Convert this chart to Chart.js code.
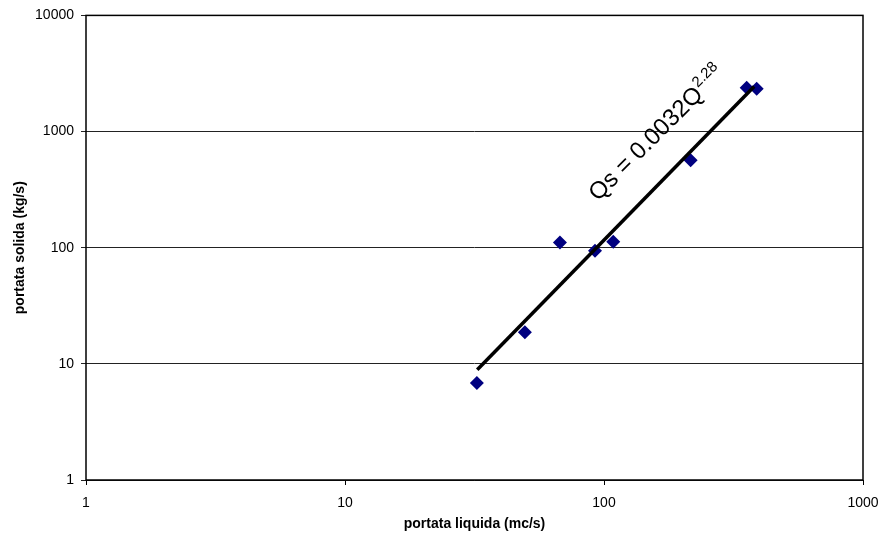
<!DOCTYPE html>
<html>
<head>
<meta charset="utf-8">
<script src="https://cdn.jsdelivr.net/npm/chart.js@4/dist/chart.umd.min.js"></script>
<style>
  html, body { margin: 0; padding: 0; background: #fff; }
  #wrap { width: 884px; height: 545px; }
</style>
</head>
<body>
<div id="wrap"><canvas id="c" width="884" height="545"></canvas></div>
<script>
// ---- data ----
const portataLiquida = [32.3, 49.5, 67.6, 92.3, 108.6, 216, 355.6, 388.7];   // Q (mc/s)
const portataSolida  = [6.84, 18.7, 111, 94.3, 112.6, 566, 2377, 2332];      // Qs (kg/s)
const trendX = [32.4, 380];
const trendY = [8.9, 2440];
const xTicks = [1, 10, 100, 1000];
const yTicks = [1, 10, 100, 1000, 10000];
const xTitle = 'portata liquida (mc/s)';
const yTitle = 'portata solida (kg/s)';
const eqMain = 'Qs = 0.0032Q';
const eqExp = '2.28';
const eqAnchor = [94.8, 248];   // data position where the equation text starts

const FONT = "'Liberation Sans', Arial, sans-serif";

const frame = {
  id: 'frame',
  afterDatasetsDraw(chart) {
    const { ctx, chartArea: a, scales } = chart;
    ctx.save();
    ctx.strokeStyle = '#000';
    ctx.lineWidth = 1.5;
    ctx.strokeRect(a.left, a.top, a.right - a.left, a.bottom - a.top);
    // equation label
    const px = scales.x.getPixelForValue(eqAnchor[0]);
    const py = scales.y.getPixelForValue(eqAnchor[1]);
    ctx.translate(px, py);
    ctx.rotate(-Math.PI / 4);
    ctx.fillStyle = '#000';
    ctx.textBaseline = 'alphabetic';
    ctx.textAlign = 'left';
    ctx.font = '24px ' + FONT;
    ctx.fillText(eqMain, 0, 0);
    const w = ctx.measureText(eqMain).width;
    ctx.font = '15px ' + FONT;
    ctx.fillText(eqExp, w + 1, -10);
    ctx.restore();
  }
};

new Chart(document.getElementById('c'), {
  type: 'scatter',
  data: {
    datasets: [
      {
        label: 'dati',
        data: portataLiquida.map((q, i) => ({ x: q, y: portataSolida[i] })),
        pointStyle: 'rectRot',
        pointRadius: 7,
        pointHoverRadius: 7,
        backgroundColor: '#000080',
        borderColor: '#000080',
        borderWidth: 0,
        order: 2
      },
      {
        label: 'trend',
        data: trendX.map((q, i) => ({ x: q, y: trendY[i] })),
        showLine: true,
        borderColor: '#000',
        borderWidth: 3.5,
        pointRadius: 0,
        fill: false,
        order: 1
      }
    ]
  },
  options: {
    responsive: false,
    animation: false,
    devicePixelRatio: 1,
    layout: { padding: { top: 14, right: 21, left: 0, bottom: 0 } },
    plugins: { legend: { display: false }, tooltip: { enabled: false } },
    scales: {
      x: {
        type: 'logarithmic',
        min: 1, max: 1000,
        afterBuildTicks: s => { s.ticks = xTicks.map(v => ({ value: v })); },
        afterFit: s => { s.height = 65; s.paddingRight = 0; s.paddingLeft = 0; },
        grid: { drawOnChartArea: false, drawTicks: true, tickLength: 5, color: '#000', lineWidth: 1 },
        border: { display: false },
        ticks: {
          padding: 10,
          color: '#000',
          font: { family: FONT, size: 14 },
          maxRotation: 0,
          callback: v => String(v)
        },
        title: {
          display: true,
          text: xTitle,
          color: '#000',
          font: { family: FONT, size: 14, weight: 'bold' },
          padding: { top: 0, bottom: 12.6 }
        }
      },
      y: {
        type: 'logarithmic',
        min: 1, max: 10000,
        afterBuildTicks: s => { s.ticks = yTicks.map(v => ({ value: v })); },
        afterFit: s => { s.width = 86; },
        grid: { drawTicks: true, tickLength: 5, color: '#222', lineWidth: 1 },
        border: { display: false },
        ticks: {
          padding: 7,
          color: '#000',
          font: { family: FONT, size: 14 },
          callback: v => String(v)
        },
        title: {
          display: true,
          text: yTitle,
          color: '#000',
          font: { family: FONT, size: 14, weight: 'bold' },
          padding: { top: 11.6, bottom: 0 }
        }
      }
    }
  },
  plugins: [frame]
});
</script>
</body>
</html>
